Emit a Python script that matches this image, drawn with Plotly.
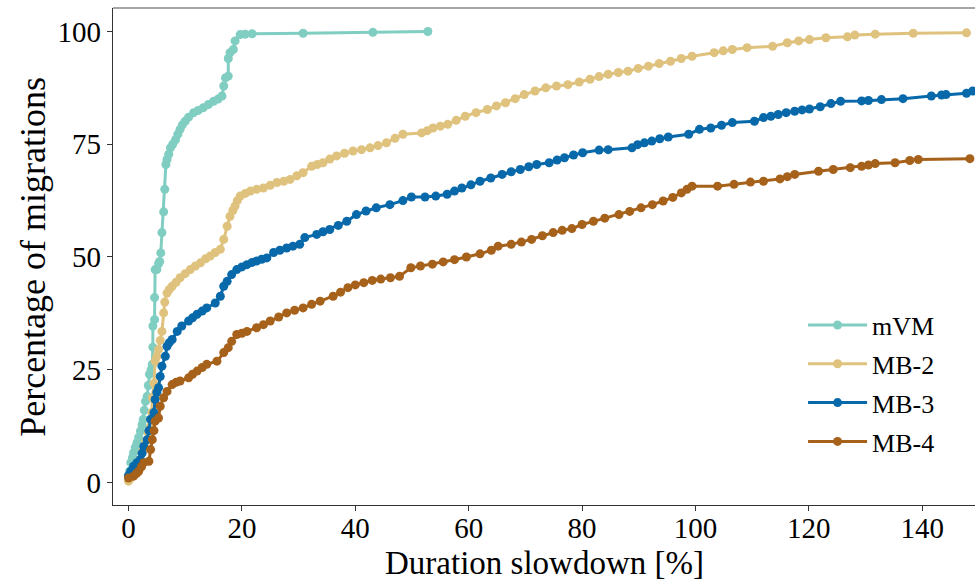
import plotly.graph_objects as go

# ---- data ----
series_names = ["mVM", "MB-2", "MB-3", "MB-4"]
series_colors = ["#80CDC1", "#DFC27D", "#0769AA", "#A6611A"]

mvm_x = [0.0, 0.2, 0.4, 0.7, 0.9, 1.2, 1.5, 1.8, 2.1, 2.4, 2.6, 2.8, 3.0, 3.3, 3.5, 3.7, 4.0, 4.2,
         4.3, 4.3, 4.6, 4.6, 4.7, 5.0, 5.3, 5.5, 5.7, 5.9, 6.2, 6.4, 6.6, 6.8, 7.1, 7.4, 7.8, 8.3,
         8.7, 9.1, 9.5, 10.0, 10.6, 11.5, 12.3, 13.2, 14.1, 15.0, 15.8, 16.5, 16.8, 17.1, 17.6,
         17.6, 17.9, 18.5, 18.8, 19.7, 20.6, 21.8, 30.8, 43.1, 52.8]
mvm_y = [1.5, 2.5, 4.4, 5.5, 6.6, 7.8, 8.8, 10.0, 11.4, 12.8, 14.0, 16.0, 18.0, 19.1, 21.5, 24.0,
         25.0, 26.2, 30.0, 34.7, 36.1, 41.0, 47.2, 47.2, 48.5, 49.0, 50.9, 55.4, 60.0, 65.0, 70.5,
         71.6, 72.8, 74.2, 75.0, 76.0, 77.2, 78.3, 79.3, 80.1, 81.0, 82.0, 82.5, 83.1, 83.8, 84.5,
         85.0, 85.7, 87.9, 89.7, 90.1, 94.0, 95.3, 96.0, 97.9, 99.3, 99.4, 99.5, 99.6, 99.8, 100.0]

mb2_x = [0.0, 0.3, 0.7, 1.1, 1.5, 2.0, 2.5, 3.0, 3.5, 3.9, 4.1, 4.2, 4.5, 4.7, 5.0, 5.3, 5.6, 5.9,
         6.2, 6.4, 6.8, 7.2, 7.7, 8.4, 9.1, 10.0, 10.9, 11.8, 12.7, 13.6, 14.4, 15.3, 16.2, 16.8,
         17.4, 17.9, 18.4, 18.8, 19.2, 19.7, 20.6, 21.5, 22.6, 23.8, 25.0, 26.2, 27.4, 28.5, 29.7,
         30.8, 32.3, 33.3, 34.3, 35.5, 36.7, 38.1, 39.6, 41.1, 42.6, 44.0, 45.5, 47.0, 48.4, 51.7,
         52.7, 53.7, 55.0, 56.3, 57.8, 59.4, 61.3, 63.3, 64.9, 66.5, 68.2, 69.8, 71.7, 73.6, 75.5,
         77.5, 79.5, 81.4, 83.0, 84.6, 86.4, 88.1, 89.9, 91.7, 93.6, 95.6, 97.5, 99.4, 103.3, 104.9,
         106.5, 109.1, 113.6, 116.2, 118.2, 120.1, 123.0, 126.8, 128.1, 131.7, 138.4, 147.8]
mb2_y = [0.3, 0.8, 1.5, 2.4, 3.5, 5.0, 7.0, 9.0, 11.0, 12.5, 15.5, 18.8, 22.0, 26.9, 28.0, 29.5,
         31.5, 33.5, 37.6, 40.0, 42.0, 42.8, 43.5, 44.4, 45.4, 46.3, 47.2, 48.0, 48.7, 49.6, 50.2,
         51.0, 51.7, 53.9, 56.8, 59.0, 60.3, 61.3, 62.5, 63.5, 64.1, 64.6, 65.0, 65.3, 65.9, 66.5,
         66.8, 67.2, 68.0, 68.7, 70.1, 70.5, 70.9, 71.7, 72.4, 73.0, 73.5, 73.8, 74.2, 74.7, 75.3,
         76.3, 77.2, 77.5, 78.0, 78.6, 79.0, 79.4, 80.3, 81.2, 82.0, 82.7, 83.5, 84.2, 85.1, 86.0,
         86.8, 87.5, 87.9, 88.2, 88.8, 89.4, 90.0, 90.5, 90.9, 91.2, 91.8, 92.3, 92.9, 93.4, 94.0,
         94.5, 95.3, 95.7, 96.0, 96.4, 96.7, 97.5, 97.9, 98.2, 98.6, 98.8, 99.2, 99.4, 99.6, 99.7]

mb3_x = [0.0, 0.4, 0.9, 1.5, 2.1, 2.4, 2.7, 3.3, 3.6, 3.9, 4.5, 4.7, 5.0, 5.3, 5.6, 5.9, 6.5, 6.8,
         7.2, 7.7, 8.6, 9.4, 10.6, 11.3, 12.1, 13.0, 13.8, 15.3, 16.2, 16.8, 17.4, 18.2, 19.1, 20.0,
         20.9, 21.8, 22.6, 23.5, 24.4, 25.6, 26.7, 27.9, 29.0, 30.2, 31.1, 33.2, 34.3, 35.5, 37.0,
         38.5, 40.2, 41.9, 43.7, 46.1, 48.4, 49.9, 52.3, 54.2, 56.2, 57.5, 58.8, 60.4, 62.0, 63.9,
         65.9, 67.5, 69.1, 70.6, 72.0, 74.2, 75.6, 76.9, 78.5, 80.1, 83.0, 84.6, 88.8, 89.8, 91.0,
         92.3, 93.7, 95.2, 98.8, 100.7, 102.7, 104.6, 106.5, 110.4, 112.0, 113.3, 114.6, 116.0,
         117.5, 118.8, 120.1, 122.0, 123.9, 125.6, 129.3, 130.5, 132.8, 136.6, 141.6, 143.4, 144.2,
         147.8, 148.9]
mb3_y = [1.5, 2.5, 3.6, 4.4, 5.1, 6.5, 8.0, 9.5, 11.5, 14.0, 15.5, 18.4, 20.0, 21.0, 23.5, 25.8,
         28.0, 30.2, 31.0, 31.7, 33.5, 34.7, 35.8, 36.5, 37.3, 38.0, 38.7, 39.8, 41.3, 43.5, 44.6,
         46.1, 47.2, 47.8, 48.3, 48.8, 49.1, 49.5, 49.8, 51.0, 51.5, 52.0, 52.4, 52.8, 54.3, 55.0,
         55.6, 56.1, 57.0, 57.9, 59.4, 60.2, 60.9, 61.6, 62.5, 63.3, 63.3, 63.5, 63.9, 64.6, 65.3,
         66.0, 66.8, 67.5, 68.3, 68.9, 69.4, 70.0, 70.5, 70.9, 71.5, 72.0, 72.6, 73.1, 73.7, 73.8,
         74.2, 74.9, 75.3, 75.7, 76.2, 76.6, 77.2, 78.3, 78.6, 79.2, 79.8, 80.1, 80.9, 81.2, 81.6,
         82.0, 82.3, 82.6, 82.8, 83.3, 84.0, 84.5, 84.6, 84.7, 84.9, 85.1, 85.7, 85.9, 86.0, 86.3,
         86.8]

mb4_x = [0.0, 0.9, 1.4, 1.8, 2.3, 2.7, 3.6, 3.9, 4.2, 4.5, 4.7, 5.3, 5.6, 6.2, 6.8, 7.7, 8.4, 9.1,
         10.6, 11.3, 12.1, 13.0, 13.8, 15.6, 16.8, 17.6, 18.2, 19.1, 20.0, 20.9, 22.6, 23.8, 25.0,
         26.5, 27.9, 29.3, 30.8, 32.3, 33.8, 36.1, 37.4, 38.7, 40.0, 41.5, 43.0, 44.5, 46.2, 47.8,
         49.8, 51.5, 53.6, 55.5, 57.5, 59.6, 62.0, 64.0, 65.2, 67.5, 69.3, 71.1, 73.0, 74.9, 76.5,
         78.2, 80.0, 82.0, 84.0, 86.5, 88.4, 90.4, 92.4, 94.3, 96.0, 97.5, 98.5, 99.4, 103.9, 106.8,
         109.7, 112.0, 114.9, 116.2, 117.5, 121.7, 124.3, 127.3, 129.3, 130.5, 131.7, 135.2, 137.8,
         139.3, 148.4]
mb4_y = [1.0, 1.4, 2.0, 2.5, 3.5, 4.4, 4.7, 7.3, 9.5, 11.5, 13.6, 14.3, 16.9, 18.8, 20.2, 21.7,
         22.2, 22.5, 23.2, 24.0, 24.7, 25.5, 26.2, 26.9, 28.8, 29.9, 31.3, 32.8, 33.1, 33.5, 34.3,
         35.0, 35.8, 36.7, 37.6, 38.2, 38.7, 39.5, 40.2, 41.3, 42.2, 43.2, 43.8, 44.3, 44.8, 45.1,
         45.4, 45.7, 47.6, 48.0, 48.4, 48.9, 49.4, 50.0, 50.7, 51.5, 52.4, 52.8, 53.3, 53.9, 54.7,
         55.4, 55.9, 56.3, 57.2, 57.9, 58.6, 59.4, 60.1, 60.9, 61.6, 62.4, 63.2, 64.2, 65.0, 65.7,
         65.7, 66.1, 66.6, 66.8, 67.3, 67.8, 68.3, 69.0, 69.4, 69.8, 70.1, 70.4, 70.7, 70.9, 71.4,
         71.6, 71.8]

x_ticks = [0, 20, 40, 60, 80, 100, 120, 140]
y_ticks = [0, 25, 50, 75, 100]
x_title = "Duration slowdown [%]"
y_title = "Percentage of migrations"

series_x = [mvm_x, mb2_x, mb3_x, mb4_x]
series_y = [mvm_y, mb2_y, mb3_y, mb4_y]

FONT = "Liberation Serif, Times New Roman, serif"

fig = go.Figure()
for i, (name, color, xs, ys) in enumerate(zip(series_names, series_colors, series_x, series_y)):
    fig.add_trace(go.Scatter(
        x=xs, y=ys, name=name, mode="lines+markers",
        line=dict(color=color, width=3),
        marker=dict(color=color, size=9),
        legendgroup=name,
    ))

W, H = 975, 579
ml, mr, mt, mb = 112.7, 0, 8.3, 73.5
pw = W - ml - mr
ph = H - mt - mb

fig.update_layout(
    width=W, height=H,
    margin=dict(l=ml, r=mr, t=mt, b=mb, pad=0, autoexpand=False),
    paper_bgcolor="white", plot_bgcolor="white",
    font=dict(family=FONT, color="black", size=29),
    showlegend=True,
    legend=dict(
        x=(803 - ml) / pw, y=(H - mb - 302) / ph, xanchor="left", yanchor="top",
        bgcolor="rgba(0,0,0,0)", font=dict(size=26, family=FONT),
        tracegroupgap=2, traceorder="grouped", itemwidth=59,
    ),
    xaxis=dict(
        range=[-2.73, 149.3], tickvals=x_ticks, ticktext=[str(v) for v in x_ticks],
        showgrid=False, zeroline=False, showline=True, linecolor="#333333", linewidth=1.3,
        ticks="outside", ticklen=5, tickwidth=1.3, tickcolor="#333333",
        tickfont=dict(size=29, family=FONT, color="black"),
        ticklabelstandoff=-8,
    ),
    yaxis=dict(
        range=[-4.99, 105.2], tickvals=y_ticks, ticktext=[str(v) for v in y_ticks],
        showgrid=False, zeroline=False, showline=True, linecolor="#333333", linewidth=1.3,
        ticks="outside", ticklen=5, tickwidth=1.3, tickcolor="#333333",
        tickfont=dict(size=29, family=FONT, color="black"),
    ),
    annotations=[
        dict(text=x_title, xref="paper", yref="paper", x=0.5, y=(H - mb - 579) / ph,
             xanchor="center", yanchor="bottom", yshift=-5, showarrow=False,
             font=dict(size=33, family=FONT, color="black")),
        dict(text=y_title, xref="paper", yref="paper", x=(32 - ml) / pw, y=0.5,
             xanchor="center", yanchor="middle", textangle=-90, showarrow=False,
             font=dict(size=36, family=FONT, color="black")),
    ],
    shapes=[
        dict(type="line", xref="paper", yref="paper", x0=0, x1=1, y0=1, y1=1,
             line=dict(color="#888888", width=1.3)),
    ],
)

fig.write_html("out.html")
